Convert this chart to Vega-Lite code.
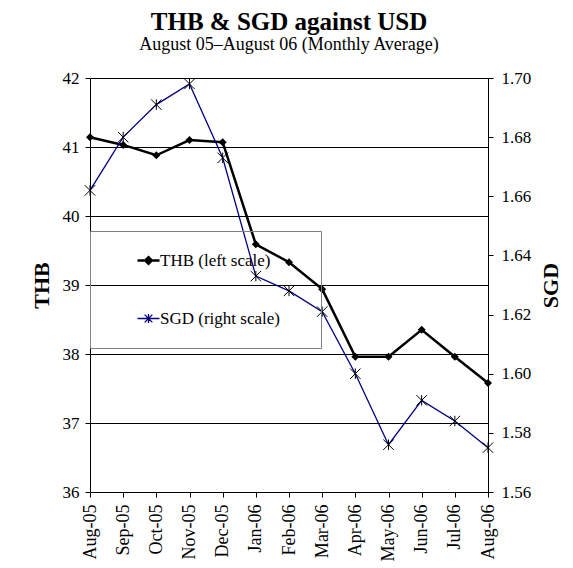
{
  "$schema": "https://vega.github.io/schema/vega-lite/v6.json",
  "width": 398,
  "height": 414,
  "autosize": {"type": "none"},
  "padding": {"left": 90, "top": 78, "right": 85, "bottom": 76},
  "background": "white",
  "title": {
    "text": "THB & SGD against USD",
    "subtitle": "August  05–August  06 (Monthly Average)",
    "font": "Liberation Serif",
    "fontSize": 25,
    "fontWeight": "bold",
    "color": "black",
    "subtitleFont": "Liberation Serif",
    "subtitleFontSize": 18,
    "subtitleColor": "black",
    "subtitlePadding": 1,
    "anchor": "middle",
    "offset": 15
  },
  "config": {
    "view": {"stroke": null},
    "font": "Liberation Serif",
    "axis": {
      "domainColor": "black",
      "domainWidth": 1,
      "tickColor": "black",
      "tickWidth": 1,
      "tickSize": 5,
      "labelColor": "black",
      "labelFont": "Liberation Serif",
      "labelFontSize": 17,
      "titleColor": "black",
      "titleFont": "Liberation Serif",
      "titleFontSize": 22,
      "titleFontWeight": "bold",
      "gridColor": "black",
      "gridOpacity": 1,
      "gridWidth": 1
    }
  },
  "data": {
    "values": [
      {"month": "Aug-05", "THB": 41.14, "SGD": 1.662},
      {"month": "Sep-05", "THB": 41.03, "SGD": 1.680},
      {"month": "Oct-05", "THB": 40.88, "SGD": 1.691},
      {"month": "Nov-05", "THB": 41.10, "SGD": 1.698},
      {"month": "Dec-05", "THB": 41.07, "SGD": 1.673},
      {"month": "Jan-06", "THB": 39.59, "SGD": 1.633},
      {"month": "Feb-06", "THB": 39.33, "SGD": 1.628},
      {"month": "Mar-06", "THB": 38.94, "SGD": 1.621},
      {"month": "Apr-06", "THB": 37.96, "SGD": 1.600},
      {"month": "May-06", "THB": 37.96, "SGD": 1.576},
      {"month": "Jun-06", "THB": 38.35, "SGD": 1.591},
      {"month": "Jul-06", "THB": 37.96, "SGD": 1.584},
      {"month": "Aug-06", "THB": 37.58, "SGD": 1.575}
    ]
  },
  "encoding": {
    "x": {
      "field": "month",
      "type": "ordinal",
      "sort": null,
      "scale": {"type": "point", "padding": 0},
      "axis": {
        "title": null,
        "labelAngle": -90,
        "labelAlign": "right",
        "labelBaseline": "middle",
        "labelPadding": 7,
        "labelFontSize": 18,
        "grid": false
      }
    }
  },
  "layer": [
    {
      "encoding": {
        "y": {
          "field": "THB",
          "type": "quantitative",
          "scale": {"domain": [36, 42], "nice": false, "zero": false},
          "axis": {
            "orient": "left",
            "title": "THB",
            "values": [36, 37, 38, 39, 40, 41, 42],
            "grid": true,
            "labelPadding": 6,
            "titlePadding": 9
          }
        }
      },
      "layer": [
        {
          "mark": {"type": "line", "strokeWidth": 2.5},
          "encoding": {
            "color": {
              "datum": "THB (left scale)",
              "scale": {
                "domain": ["THB (left scale)", "SGD (right scale)"],
                "range": ["#000000", "#000080"]
              },
              "legend": {
                "orient": "none",
                "legendX": 0,
                "legendY": 153,
                "title": " ",
                "titleOrient": "right",
                "titlePadding": 20,
                "titleFontSize": 16,
                "direction": "vertical",
                "strokeColor": "#808080",
                "padding": 21,
                "labelFont": "Liberation Serif",
                "labelFontSize": 17,
                "labelColor": "black",
                "labelOffset": 3,
                "symbolSize": 484,
                "symbolOffset": 29,
                "rowPadding": 40,
                "encode": {
                  "symbols": {
                    "update": {
                      "shape": {"signal": "datum.value === 'THB (left scale)' ? 'M-1,0L1,0M0,-0.3L0.3,0L0,0.3L-0.3,0Z' : 'M-1,0L1,0M-0.35,-0.35L0.35,0.35M-0.35,0.35L0.35,-0.35M0,-0.4L0,0.4'"},
                      "fill": {"signal": "datum.value === 'THB (left scale)' ? '#000000' : 'transparent'"},
                      "stroke": {"signal": "datum.value === 'THB (left scale)' ? '#000000' : '#000080'"},
                      "strokeWidth": {"signal": "datum.value === 'THB (left scale)' ? 2.5 : 1.3"},
                      "opacity": {"value": 1}
                    }
                  }
                }
              }
            }
          }
        },
        {
          "mark": {"type": "point", "shape": "diamond", "filled": true, "color": "#000000", "size": 64, "opacity": 1}
        }
      ]
    },
    {
      "encoding": {
        "y": {
          "field": "SGD",
          "type": "quantitative",
          "scale": {"domain": [1.56, 1.70], "nice": false, "zero": false},
          "axis": {
            "orient": "right",
            "title": "SGD",
            "values": [1.56, 1.58, 1.60, 1.62, 1.64, 1.66, 1.68, 1.70],
            "format": ".2f",
            "grid": false,
            "labelPadding": 8,
            "titleAngle": 270,
            "titleBaseline": "top",
            "titlePadding": 10
          }
        }
      },
      "layer": [
        {
          "mark": {"type": "line", "strokeWidth": 1.3},
          "encoding": {"color": {"datum": "SGD (right scale)"}}
        },
        {
          "mark": {"type": "point", "shape": "M-1,-1L1,1M-1,1L1,-1M0,-1L0,1", "filled": false, "color": "#000000", "strokeWidth": 1, "size": 110, "opacity": 1}
        }
      ]
    }
  ],
  "resolve": {"scale": {"y": "independent"}}
}
